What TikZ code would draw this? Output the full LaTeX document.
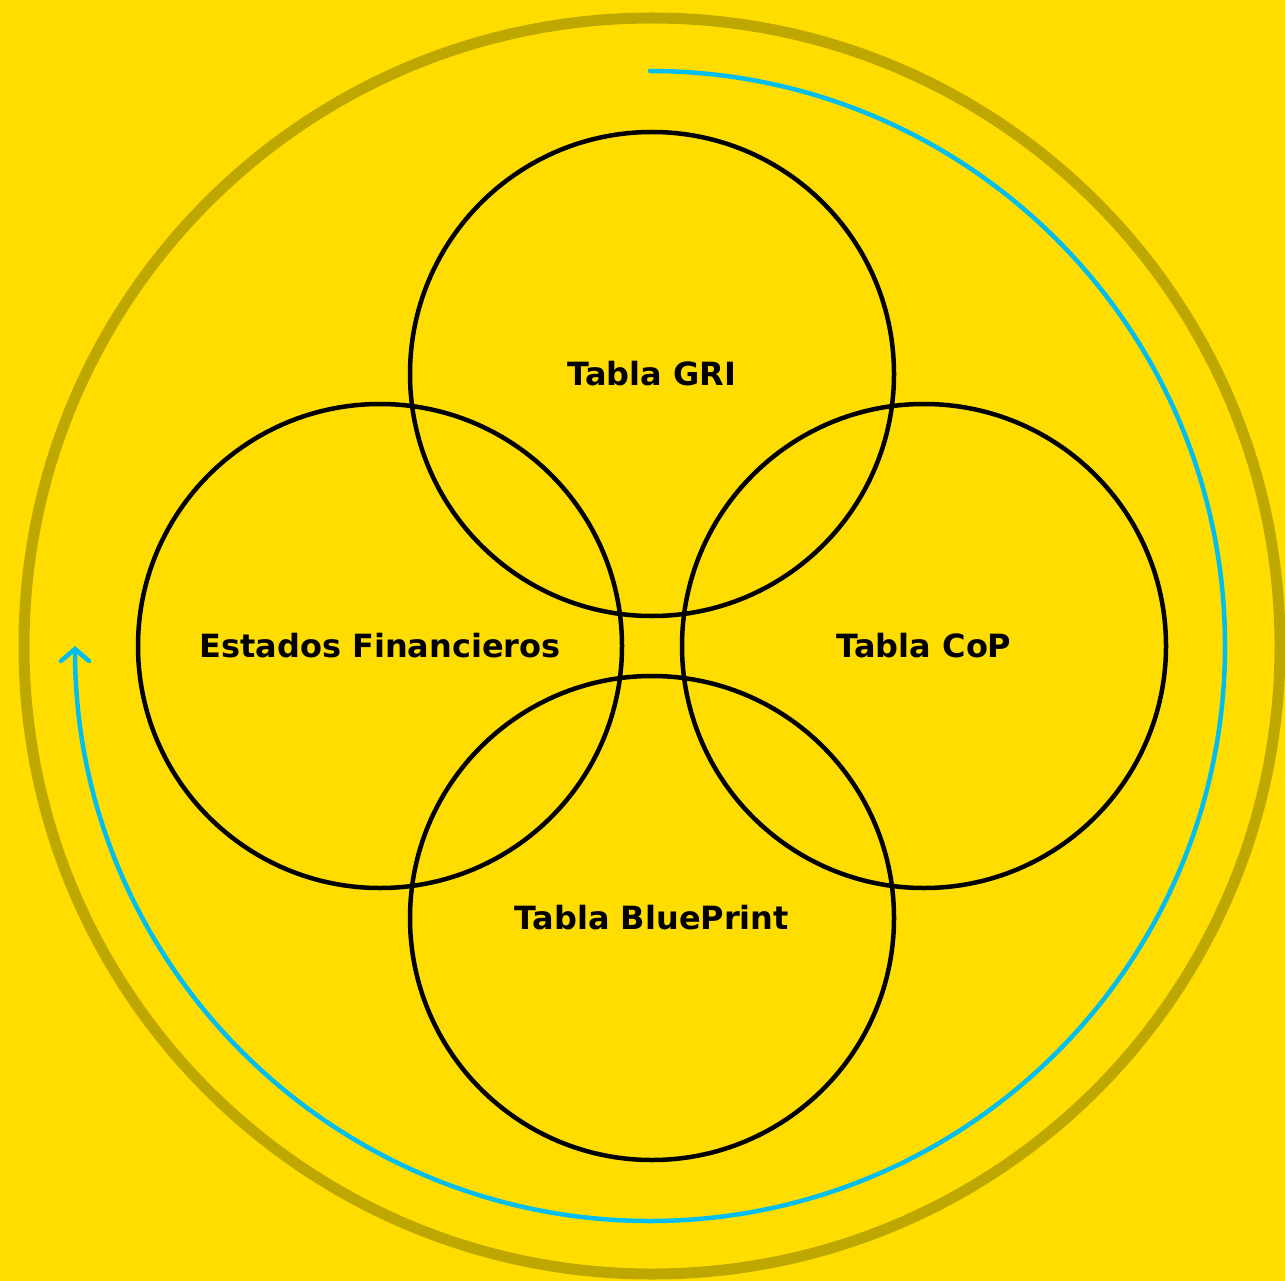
\documentclass[tikz,border=0pt]{standalone}
\usepackage{fontspec}
\setmainfont{DejaVu Sans}
\definecolor{cyclebg}{RGB}{255,221,0}
\definecolor{cycleolive}{RGB}{190,168,0}
\definecolor{cycleblue}{RGB}{0,190,240}
\usetikzlibrary{arrows.meta, calc}

\tikzset{
  setcircle/.style={circle, draw=black, line width=4.5pt, minimum size=484pt,
    inner sep=0pt, font=\fontsize{32}{38}\selectfont\bfseries},
}

\begin{document}
\begin{tikzpicture}[x=1pt, y=-1pt]
        \fill[cyclebg] (0,0) rectangle (1285,1281);
        \useasboundingbox (0,0) rectangle (1285,1281);
        \coordinate (hub) at (652,646);
        \coordinate (loop) at (650,646);
        \draw[cycleolive, line width=11pt] (hub) circle[radius=628];
        \node[setcircle] (gri) at (652,374) {Tabla GRI};
        \node[setcircle] (estados) at (380,646) {Estados Financieros};
        \node[setcircle] (cop) at (924,646) {Tabla CoP};
        \node[setcircle] (blue) at (652,918) {Tabla BluePrint};
        \draw[cycleblue, line width=4.5pt, line cap=round,
          -{Straight Barb[length=12pt, width=28pt, line cap=round]}]
          ($(loop)+(0,-575)$) arc[start angle=-90, end angle=180, radius=575];
      \end{tikzpicture}
\end{document}
